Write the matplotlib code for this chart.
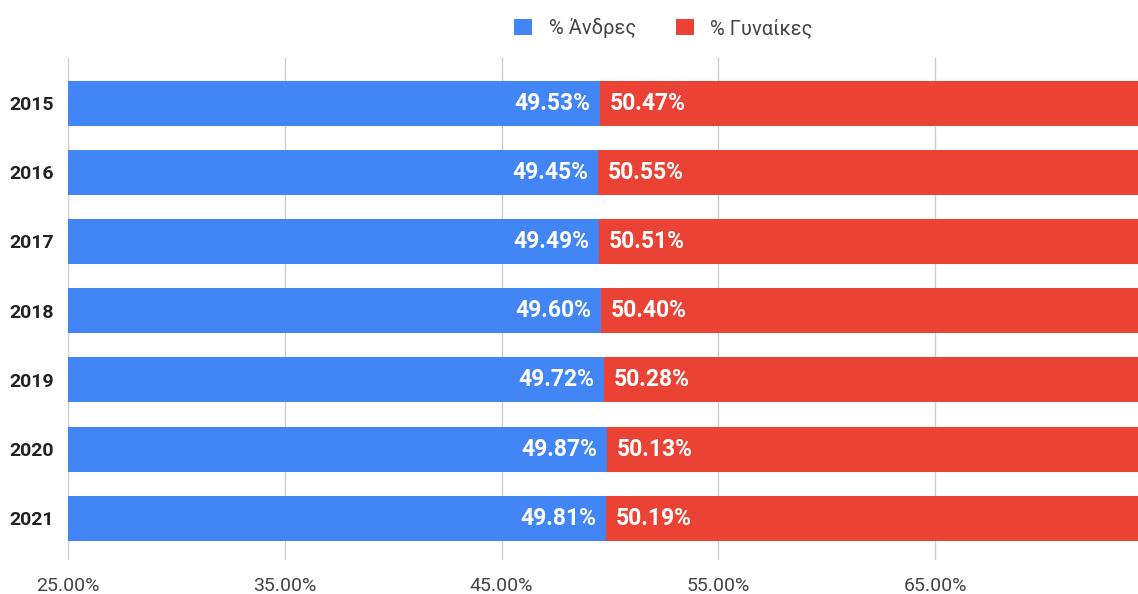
import matplotlib
matplotlib.use("Agg")
import matplotlib.pyplot as plt
import numpy as np

years = ["2015", "2016", "2017", "2018", "2019", "2020", "2021"]
men = [49.53, 49.45, 49.49, 49.60, 49.72, 49.87, 49.81]
women = [50.47, 50.55, 50.51, 50.40, 50.28, 50.13, 50.19]
xticks = [25, 35, 45, 55, 65]
series_names = ["% Άνδρες", "% Γυναίκες"]

plt.rcParams['font.family'] = ['Roboto', 'DejaVu Sans']

fig = plt.figure(figsize=(11.38, 5.94), dpi=100)
ax = fig.add_axes([68/1138, 1-560/594, 1-68/1138, (560-58)/594])

blue = "#4285F4"
red = "#EA4335"
y = np.arange(len(years))
h = 0.65
ax.barh(y, men, height=h, color=blue, label=series_names[0], zorder=2)
ax.barh(y, women, left=men, height=h, color=red, label=series_names[1], zorder=2)

for i in range(len(years)):
    ax.text(men[i] - 0.45, y[i], f"{men[i]:.2f}%", ha="right", va="center",
            color="white", fontsize=16.5, fontweight="bold", zorder=3)
    ax.text(men[i] + 0.45, y[i], f"{women[i]:.2f}%", ha="left", va="center",
            color="white", fontsize=16.5, fontweight="bold", zorder=3)

ax.set_xlim(25, 25 + 1070/21.675)
ax.set_ylim(6.6, -0.65)
ax.set_yticks(y)
ax.set_yticklabels(years, fontsize=14, fontweight="bold", color="#222222")
ax.set_xticks(xticks)
ax.set_xticklabels([f"{v:.2f}%" for v in xticks], fontsize=14, color="#444444")
ax.tick_params(axis="y", length=0, pad=10)
ax.tick_params(axis="x", length=0, pad=12)
for s in ax.spines.values():
    s.set_visible(False)
ax.grid(axis="x", color="#cccccc", linewidth=1, zorder=0)
ax.axvline(25, color="#999999", linewidth=1.2, zorder=1)

leg = fig.legend(loc="center", bbox_to_anchor=(0.583, 1 - 28/594), ncol=2, frameon=False,
                 fontsize=14.5, handlelength=0.9, handleheight=0.9, columnspacing=2.0,
                 handletextpad=0.8)
for t in leg.get_texts():
    t.set_color("#444444")

fig.savefig("out.png", dpi=100, facecolor="white")
